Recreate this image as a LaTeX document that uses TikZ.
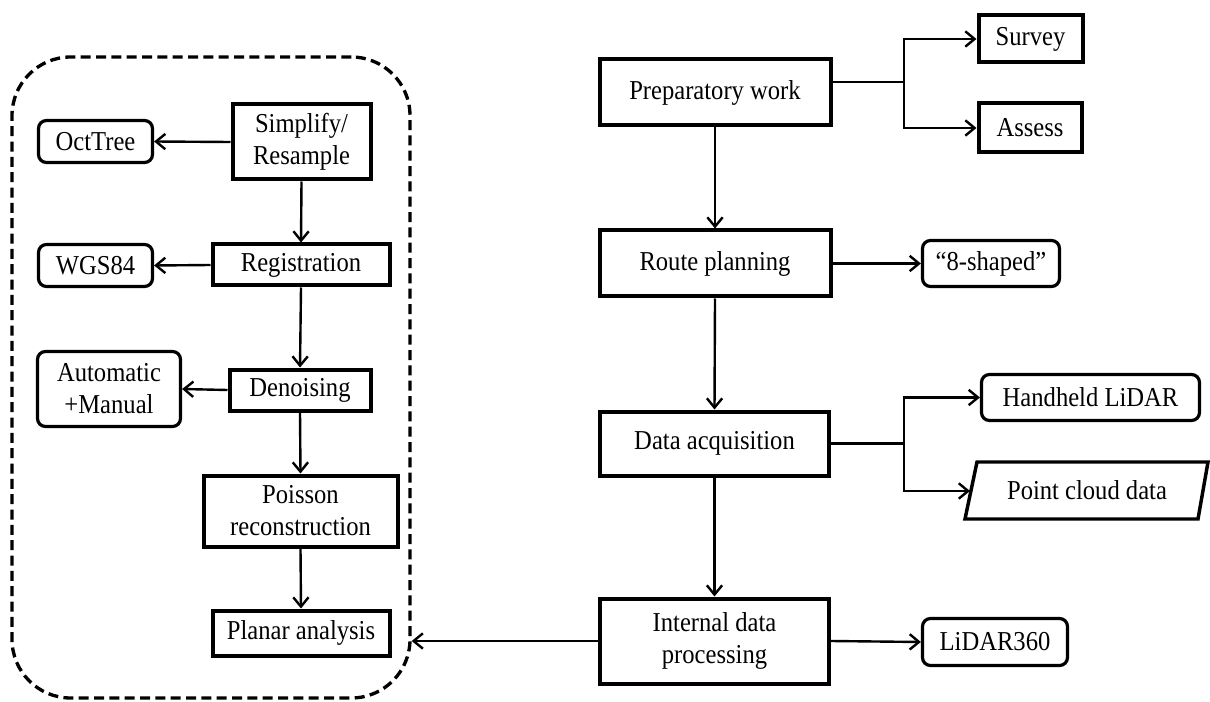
\documentclass[tikz,border=0pt]{standalone}
\usepackage{fontspec}
\setmainfont{Liberation Serif}[FakeStretch=0.9]
\usetikzlibrary{arrows.meta}
\begin{document}
\begin{tikzpicture}[x=0.75pt,y=-0.75pt,
  font=\fontsize{20.5pt}{24pt}\selectfont,
  >={Straight Barb[length=7pt,width=11.5pt]},
  conn/.style={line width=1.8pt},
  sq/.style={draw, line width=3pt, inner sep=0pt, align=center},
  rd/.style={draw, line width=2.4pt, rounded corners=6pt, inner sep=0pt, align=center}]
\useasboundingbox (0,0) rectangle (1210,702);
% dashed group
\node[draw, dashed, line width=2.5pt, dash pattern=on 7.5pt off 4pt, rounded corners=44pt,
  minimum width=398*0.75pt, minimum height=641*0.75pt, inner sep=0pt] (group) at (211,377.5) {};
% left column
\node[sq, minimum width=138*0.75pt, minimum height=75*0.75pt] (simp) at (301.5,142) {Simplify/\\Resample};
\node[sq, minimum width=177*0.75pt, minimum height=41*0.75pt] (reg) at (301,265) {Registration};
\node[sq, minimum width=141*0.75pt, minimum height=41*0.75pt] (den) at (300,390) {Denoising};
\node[sq, minimum width=194*0.75pt, minimum height=71*0.75pt] (poi) at (300.5,511) {Poisson\\reconstruction};
\node[sq, minimum width=177*0.75pt, minimum height=45*0.75pt] (plan) at (301,633) {Planar analysis};
\node[rd, minimum width=114*0.75pt, minimum height=42*0.75pt] (oct) at (95.5,141.5) {OctTree};
\node[rd, minimum width=114*0.75pt, minimum height=42*0.75pt] (wgs) at (95.5,265.5) {WGS84};
\node[rd, minimum width=143*0.75pt, minimum height=75*0.75pt] (auto) at (109,389) {Automatic\\+Manual};
% right column
\node[sq, minimum width=231*0.75pt, minimum height=66*0.75pt] (prep) at (715,92.5) {Preparatory work};
\node[sq, minimum width=231*0.75pt, minimum height=66*0.75pt] (route) at (715,263.5) {Route planning};
\node[sq, minimum width=229*0.75pt, minimum height=64*0.75pt] (acq) at (714.5,443.5) {Data acquisition};
\node[sq, minimum width=229*0.75pt, minimum height=85*0.75pt] (intl) at (714.5,641) {Internal data\\processing};
\node[sq, minimum width=104*0.75pt, minimum height=47*0.75pt] (survey) at (1030.5,39) {Survey};
\node[sq, minimum width=103*0.75pt, minimum height=49*0.75pt] (assess) at (1030,128) {Assess};
\node[rd, minimum width=137*0.75pt, minimum height=46*0.75pt] (eight) at (991,263.5) {“8-shaped”};
\node[rd, minimum width=218*0.75pt, minimum height=46*0.75pt] (hand) at (1090.5,397.5) {Handheld LiDAR};
\node[rd, minimum width=145*0.75pt, minimum height=47*0.75pt] (l360) at (995,642) {LiDAR360};
% parallelogram
\draw[line width=2.6pt, line join=miter] (965,519) -- (977,462) -- (1208,462) -- (1198,519) -- cycle;
\node (pcd) at (1087,490.5) {Point cloud data};
\coordinate (pcdin) at (970,491);
% branch points
\coordinate (b1) at (904,82);
\coordinate (b2) at (904,443.5);
% connectors left
\draw[conn,->] (simp.south) -- (reg.north);
\draw[conn,->] (reg.south) -- (den.north);
\draw[conn,->] (den.south) -- (poi.north);
\draw[conn,->] (poi.south) -- (plan.north);
\draw[conn,->] (simp.west) -- (oct.east);
\draw[conn,->] (reg.west) -- (wgs.east);
\draw[conn,->] (den.west) -- (auto.east);
% connectors right
\draw[conn,->] (prep.south) -- (route.north);
\draw[conn,->] (route.south) -- (acq.north);
\draw[conn,->] (acq.south) -- (intl.north);
\draw[conn] (prep.east |- b1) -- (b1);
\draw[conn,->] (b1) |- (survey.west);
\draw[conn,->] (b1) |- (assess.west);
\draw[conn,->] (route.east) -- (eight.west);
\draw[conn] (acq.east) -- (b2);
\draw[conn,->] (b2) |- (hand.west);
\draw[conn,->] (b2) |- (pcdin);
\draw[conn,->] (intl.east) -- (l360.west);
\draw[conn,->] (intl.west) -- (intl.west -| group.east);
\end{tikzpicture}
\end{document}
